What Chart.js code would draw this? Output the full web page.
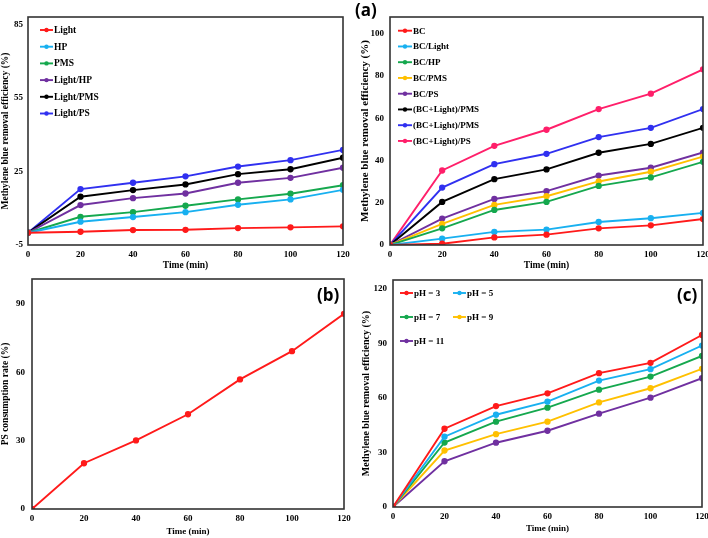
<!DOCTYPE html>
<html><head><meta charset="utf-8">
<script src="https://cdn.jsdelivr.net/npm/chart.js@4/dist/chart.umd.min.js"></script>
<style>
html,body{margin:0;padding:0;background:#fff;}
body{width:708px;height:538px;position:relative;overflow:hidden;}
canvas{position:absolute;}
.lbl{position:absolute;font-family:'Open Sans';font-weight:700;font-size:17px;line-height:1;color:#000;white-space:nowrap;}
</style></head><body>
<canvas id="cA" width="354" height="276" style="left:0;top:0"></canvas>
<canvas id="cB" width="354" height="276" style="left:354px;top:0"></canvas>
<canvas id="cC" width="354" height="268" style="left:0;top:270px"></canvas>
<canvas id="cD" width="354" height="268" style="left:354px;top:270px"></canvas>
<div class="lbl" style="left:355px;top:1px">(a)</div>
<div class="lbl" style="left:317px;top:286px">(b)</div>
<div class="lbl" style="left:677px;top:286px">(c)</div>
<script>
// ---- data ----
const times = [0, 20, 40, 60, 80, 100, 120];
const xTicks = [0, 20, 40, 60, 80, 100, 120];

// panel (a) left
const yTicksA1 = [-5, 25, 55, 85];
const lightA    = [0, 0.4, 1.1, 1.2, 1.9, 2.2, 2.6];
const hpA       = [0, 4.5, 6.4, 8.4, 11.4, 13.6, 17.5];
const pmsA      = [0, 6.5, 8.4, 11.0, 13.6, 15.9, 19.4];
const lightHpA  = [0, 11.3, 14.1, 16.0, 20.4, 22.4, 26.5];
const lightPmsA = [0, 14.7, 17.4, 19.7, 23.9, 25.9, 30.6];
const lightPsA  = [0, 17.8, 20.4, 23.0, 27.0, 29.6, 33.8];

// panel (a) right
const yTicksA2 = [0, 20, 40, 60, 80, 100];
const bc            = [0, 0.6, 3.6, 4.9, 7.9, 9.3, 12.3];
const bcLight       = [0, 3.0, 6.2, 7.3, 10.9, 12.7, 15.2];
const bcHp          = [0, 7.9, 16.6, 20.4, 28.0, 32.0, 39.4];
const bcPms         = [0, 10.0, 19.0, 23.1, 30.1, 34.7, 41.9];
const bcPs          = [0, 12.5, 21.8, 25.5, 32.9, 36.6, 43.8];
const bcLightPmsK   = [0, 20.4, 31.2, 35.8, 43.7, 47.9, 55.5];
const bcLightPmsB   = [0, 27.2, 38.3, 43.2, 51.1, 55.5, 64.4];
const bcLightPs     = [0, 35.3, 47.0, 54.6, 64.4, 71.7, 83.2];

// panel (b)
const yTicksB = [0, 30, 60, 90];
const psRate = [0, 20.1, 30.1, 41.6, 56.9, 69.3, 85.7];

// panel (c)
const yTicksC = [0, 30, 60, 90, 120];
const ph3  = [0, 43.1, 55.6, 62.6, 73.7, 79.4, 94.7];
const ph5  = [0, 38.7, 50.8, 58.0, 69.6, 75.9, 88.9];
const ph7  = [0, 35.5, 47.0, 54.7, 64.6, 71.8, 83.2];
const ph9  = [0, 31.1, 40.1, 47.0, 57.6, 65.4, 76.1];
const ph11 = [0, 25.2, 35.4, 42.0, 51.4, 60.2, 70.9];

// ---- colours ----
const RED = '#ff1a1a', CYAN = '#18b0f0', GREEN = '#15a84e', PURPLE = '#7030a0',
      BLACK = '#000000', BLUE = '#3030f0', GOLD = '#ffc000', PINK = '#ff1f6a';

const SERIF = '"Liberation Serif", "Times New Roman", serif';

function pts(arr){ return arr.map((v,i)=>({x: times[i], y: v})); }
function ds(label, arr, color){
  return {label, data: pts(arr), borderColor: color, backgroundColor: color,
          borderWidth: 1.9, pointRadius: 2.2, pointHoverRadius: 2.2, pointStyle: 'circle', tension: 0};
}

const frame = {
  id: 'frame',
  afterDatasetsDraw(chart){
    const {ctx, chartArea: a} = chart;
    ctx.save();
    ctx.strokeStyle = '#333'; ctx.lineWidth = 1.6;
    ctx.strokeRect(a.left, a.top, a.right - a.left, a.bottom - a.top);
    ctx.restore();
  }
};
const inLegend = {
  id: 'inLegend',
  afterDraw(chart, args, o){
    if (!o || !o.show) return;
    const ctx = chart.ctx;
    ctx.save();
    ctx.font = 'bold ' + o.size + 'px ' + SERIF;
    ctx.textBaseline = 'middle';
    chart.data.datasets.forEach((d, i) => {
      const col = i % o.cols, row = Math.floor(i / o.cols);
      const x = o.x + col * o.colDx, y = o.y + row * o.dy;
      ctx.strokeStyle = d.borderColor; ctx.lineWidth = 1.9;
      ctx.beginPath(); ctx.moveTo(x, y); ctx.lineTo(x + o.len, y); ctx.stroke();
      ctx.fillStyle = d.borderColor;
      ctx.beginPath(); ctx.arc(x + o.len / 2, y, 2.2, 0, Math.PI * 2); ctx.fill();
      ctx.fillStyle = '#000';
      ctx.fillText(d.label, x + o.len + 1, y + 0.5);
    });
    ctx.restore();
  }
};

function xScale(h, pb, tsize){
  return {
    type: 'linear', min: 0, max: 120,
    afterBuildTicks: s => { s.ticks = xTicks.map(v => ({value: v})); },
    grid: {display: false, drawTicks: false}, border: {display: false},
    ticks: {padding: 4, color: '#000', font: {family: SERIF, weight: 'bold', size: 9}},
    title: {display: true, text: 'Time (min)', color: '#000',
            font: {family: SERIF, weight: 'bold', size: tsize}, padding: {top: 0, bottom: pb}},
    afterFit: s => { s.height = h; s.paddingLeft = 0; s.paddingRight = 0; }
  };
}
function yScale(w, min, max, tickArr, title, tsize, tpad, lpad){
  return {
    type: 'linear', min, max,
    afterBuildTicks: s => { s.ticks = tickArr.map(v => ({value: v})); },
    grid: {display: false, drawTicks: false}, border: {display: false},
    ticks: {padding: lpad, color: '#000', font: {family: SERIF, weight: 'bold', size: 9}},
    title: {display: true, text: title, color: '#000',
            font: {family: SERIF, weight: 'bold', size: tsize}, padding: {top: tpad, bottom: 0}},
    afterFit: s => { s.width = w; s.paddingTop = 0; s.paddingBottom = 0; }
  };
}
function make(id, datasets, pad, x, y, legend){
  new Chart(document.getElementById(id), {
    type: 'line',
    data: {datasets},
    options: {
      responsive: false, animation: false, events: [],
      layout: {padding: pad},
      scales: {x, y},
      plugins: {legend: {display: false}, tooltip: {enabled: false}, inLegend: legend}
    },
    plugins: [frame, inLegend]
  });
}

const MBRE = 'Methylene blue removal efficiency (%)';

make('cA', [
  ds('Light', lightA, RED), ds('HP', hpA, CYAN), ds('PMS', pmsA, GREEN),
  ds('Light/HP', lightHpA, PURPLE), ds('Light/PMS', lightPmsA, BLACK), ds('Light/PS', lightPsA, BLUE)
], {left: 0, top: 17, right: 11, bottom: 0},
  xScale(31, 5, 9.5), yScale(28, -5, 88, yTicksA1, MBRE, 9.5, 0, 5),
  {show: true, x: 40, y: 30, dy: 16.7, cols: 1, colDx: 0, len: 13, size: 9.5});

make('cB', [
  ds('BC', bc, RED), ds('BC/Light', bcLight, CYAN), ds('BC/HP', bcHp, GREEN),
  ds('BC/PMS', bcPms, GOLD), ds('BC/PS', bcPs, PURPLE),
  ds('(BC+Light)/PMS', bcLightPmsK, BLACK), ds('(BC+Light)/PMS', bcLightPmsB, BLUE),
  ds('(BC+Light)/PS', bcLightPs, PINK)
], {left: 0, top: 17, right: 5, bottom: 0},
  xScale(31, 5, 9.5), yScale(36, 0, 108, yTicksA2, MBRE, 11, 5, 6),
  {show: true, x: 44, y: 30.7, dy: 15.75, cols: 1, colDx: 0, len: 14, size: 9});

make('cC', [ ds('PS consumption rate', psRate, RED) ],
  {left: 0, top: 9, right: 10, bottom: 0},
  xScale(29, 1, 9), yScale(32, 0, 101, yTicksB, 'PS consumption rate (%)', 9.5, 0, 7),
  {show: false});

make('cD', [
  ds('pH = 3', ph3, RED), ds('pH = 5', ph5, CYAN), ds('pH = 7', ph7, GREEN),
  ds('pH = 9', ph9, GOLD), ds('pH = 11', ph11, PURPLE)
], {left: 0, top: 10, right: 6, bottom: 0},
  xScale(31, 4, 9), yScale(39, 0, 125, yTicksC, MBRE, 10, 6, 6),
  {show: true, x: 46, y: 23, dy: 24, cols: 2, colDx: 53, len: 13, size: 9});
</script>
</body></html>
